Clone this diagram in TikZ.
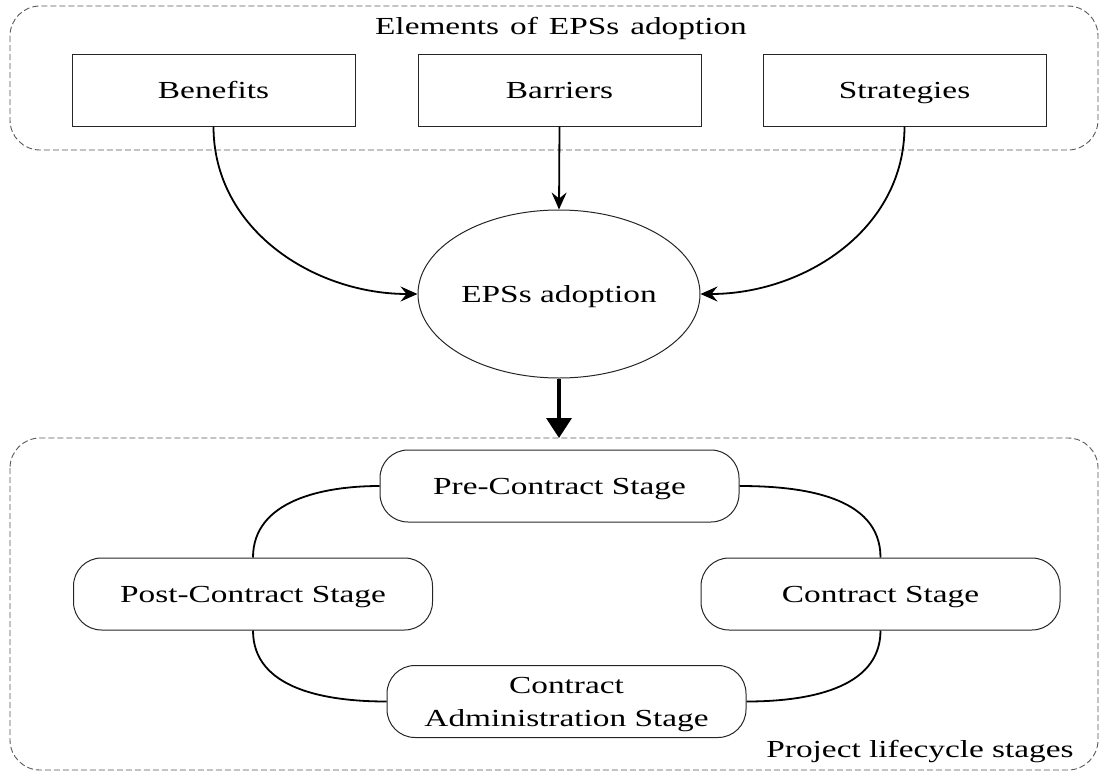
\documentclass[tikz,border=0pt]{standalone}
\usepackage{fontspec}
\setmainfont{Liberation Serif}[FakeStretch=1.36]
\usetikzlibrary{arrows.meta,shapes.geometric}

\begin{document}
\begin{tikzpicture}[x=1pt,y=-1pt,
  txt/.style={font=\fontsize{24.5}{33}\selectfont, text height=17pt, text depth=0pt, inner sep=0pt},
  group/.style={draw=black!65, line width=0.9pt, dash pattern=on 6pt off 3pt, rounded corners=30pt},
  elembox/.style={txt, draw=black!85, line width=1pt, minimum width=283pt, minimum height=72pt},
  stagebox/.style={txt, draw=black!85, line width=1pt, rounded corners=28pt, minimum width=359pt, minimum height=72pt, align=center},
  conn/.style={line width=1.8pt},
  flow/.style={conn, -{Stealth[length=17pt,width=15pt,inset=6pt]}},
  bigflow/.style={line width=3.5pt, -{Triangle[length=20pt,width=25pt]}}
]
\useasboundingbox (0,0) rectangle (1100,771);

% group frames
\draw[group] (10,6) rectangle (1098,150);
\draw[group] (10,438) rectangle (1098,770);

% adoption elements
\node[txt, anchor=base] (elemtitle) at (561,34) {\spaceskip=11pt\relax Elements of EPSs adoption};
\node[elembox] (ben) at (213.5,90) {Benefits};
\node[elembox] (bar) at (559.5,90) {Barriers};
\node[elembox] (str) at (904.5,90) {Strategies};

\node[txt, draw=black!85, line width=1pt, ellipse, minimum width=282pt, minimum height=168pt] (eps) at (559,294) {EPSs adoption};

\draw[flow] (ben.south) to[out=-90,in=180] (eps.west);
\draw[flow] (bar.south) -- (eps.north);
\draw[flow] (str.south) to[out=-90,in=0] (eps.east);

\coordinate (stagetop) at (559,438);
\draw[bigflow] (eps.south) -- (stagetop);

% lifecycle stages
\node[stagebox] (pre) at (559.5,486) {Pre-Contract Stage};
\node[stagebox] (post) at (253,594) {Post-Contract Stage};
\node[stagebox] (con) at (880.5,594) {Contract Stage};
\node[stagebox, text height=50pt] (adm) at (566.5,701.5) {Contract\\Administration Stage};

\draw[conn] (pre.west) to[out=180,in=90] (post.north);
\draw[conn] (post.south) to[out=-90,in=180] (adm.west);
\draw[conn] (pre.east) to[out=0,in=90] (con.north);
\draw[conn] (con.south) to[out=-90,in=0] (adm.east);

\node[txt, anchor=base] (lifetitle) at (920,757) {Project lifecycle stages};
\end{tikzpicture}
\end{document}
